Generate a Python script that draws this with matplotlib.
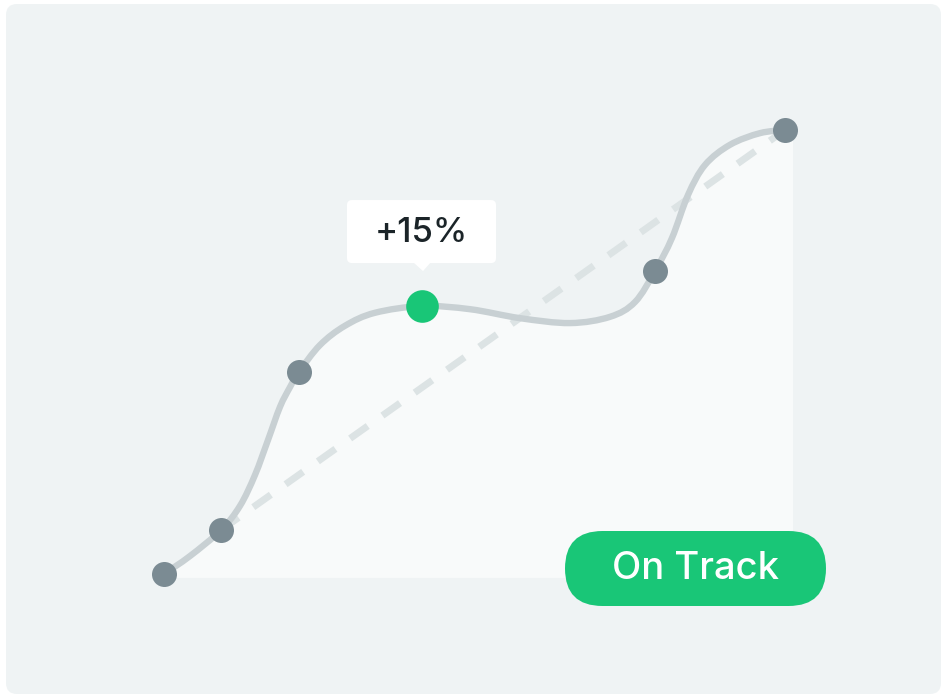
import numpy as np
import matplotlib
matplotlib.use("Agg")
import matplotlib.pyplot as plt
from matplotlib.path import Path
from matplotlib.patches import PathPatch, FancyBboxPatch, Polygon

# ---- data ----
# trace of the progress curve: week -> progress (%)
curve_weeks = [0, 2.6, 5.7, 7.6, 9.1, 10.4, 11.6, 12.6, 13.5, 15.6, 18.1, 21.1, 25.8,
               30.6, 35.6, 40.6, 44.6, 47.1, 49.1, 50.8, 52.4, 54.1, 56.6, 59.6, 62.1]
curve_progress = [0.9, 4.9, 10.7, 16.1, 23.0, 30.8, 38.2, 42.6, 46.0, 52.0, 56.3, 59.2, 60.7,
                  60.0, 58.0, 56.9, 58.3, 61.6, 68.5, 75.9, 85.5, 92.2, 96.7, 99.3, 100.0]
# milestones (markers) are points of the trace
milestone_idx = [0, 2, 8, 12, 18, 24]
highlight_idx = 12
tooltip_label = "+15%"
status_label = "On Track"

# ---- colours ----
BG = "#eff3f4"
FILL = "#f8fafa"
CURVE = "#c8d0d3"
DASH = "#dce3e4"
MARK = "#7b8b93"
GREEN = "#19c677"
TEXT = "#1b2428"

W, H = 942, 695


def catmull_rom_path(xs, ys):
    P = np.column_stack([xs, ys]).astype(float)
    n = len(P)
    ext = np.vstack([P[0], P, P[-1]])
    verts = [tuple(P[0])]
    codes = [Path.MOVETO]
    for i in range(n - 1):
        p0, p1, p2, p3 = ext[i], ext[i + 1], ext[i + 2], ext[i + 3]
        c1 = p1 + (p2 - p0) / 6.0
        c2 = p2 - (p3 - p1) / 6.0
        verts += [tuple(c1), tuple(c2), tuple(p2)]
        codes += [Path.CURVE4] * 3
    return verts, codes


plt.rcParams["font.family"] = ["Inter", "DejaVu Sans"]
plt.rcParams["lines.scale_dashes"] = False

fig = plt.figure(figsize=(W / 100, H / 100), dpi=100)
fig.patch.set_facecolor("white")

# background card (pixel coordinates)
bg = fig.add_axes([0, 0, 1, 1])
bg.set_xlim(0, W); bg.set_ylim(H, 0); bg.axis("off")
bg.add_patch(FancyBboxPatch((6, 4), 935, 690, boxstyle="round,pad=0,rounding_size=11",
                            facecolor=BG, edgecolor="none"))

# data axes
ax = fig.add_axes([0, 0, 1, 1])
ax.patch.set_alpha(0)
ax.set_xlim(-16.4, 77.8)
ax.set_ylim(-26.12, 129.02)
ax.axis("off")

x = np.asarray(curve_weeks, float)
y = np.asarray(curve_progress, float)
verts, codes = catmull_rom_path(x, y)

x_edge = x[-1] + 0.8
fill_verts = verts + [(x_edge, y[-1]), (x_edge, 0), (x[0], 0), (x[0], y[0])]
fill_codes = codes + [Path.LINETO, Path.LINETO, Path.LINETO, Path.CLOSEPOLY]
ax.add_patch(PathPatch(Path(fill_verts, fill_codes), facecolor=FILL, edgecolor="none", zorder=1))

a, b = milestone_idx[1], milestone_idx[-1]
ax.plot([x[a], x[b]], [y[a], y[b]], color=DASH, lw=5, dashes=(15.5, 13),
        dash_capstyle="butt", zorder=2)

ax.add_patch(PathPatch(Path(verts, codes), facecolor="none", edgecolor=CURVE, lw=4.6,
                       capstyle="round", zorder=3))

others = [i for i in milestone_idx if i != highlight_idx]
ax.plot(x[others], y[others], "o", ms=18, color=MARK, mec="none", zorder=4)
ax.plot([x[highlight_idx]], [y[highlight_idx]], "o", ms=23.5, color=GREEN, mec="none", zorder=4)

# overlay (pixel coordinates) for tooltip and badge
top = fig.add_axes([0, 0, 1, 1])
top.patch.set_alpha(0)
top.set_xlim(0, W); top.set_ylim(H, 0); top.axis("off")

dx, dy = ax.transData.transform((x[highlight_idx], y[highlight_idx]))
px, py = dx, H - dy
top.add_patch(FancyBboxPatch((px - 75, py - 106), 149, 63,
                             boxstyle="round,pad=0,rounding_size=5",
                             facecolor="white", edgecolor="none"))
top.add_patch(Polygon([(px - 9, py - 44), (px + 9, py - 44), (px + 1, py - 35)],
                      closed=True, facecolor="white", edgecolor="none"))
top.text(px - 1, py - 73, tooltip_label, ha="center", va="center", fontsize=25,
         fontweight="medium", color=TEXT)

top.add_patch(FancyBboxPatch((565, 531), 261, 75, boxstyle="round,pad=0,rounding_size=37.5",
                             facecolor=GREEN, edgecolor="none"))
top.text(696, 569, status_label, ha="center", va="center", fontsize=27.5,
         fontweight="medium", color="white")

fig.savefig("out.png", dpi=100, facecolor="white")
